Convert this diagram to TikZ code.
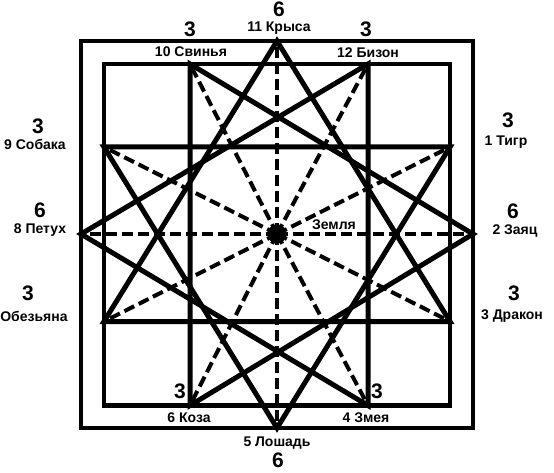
\documentclass[tikz,border=0pt]{standalone}
\usepackage{fontspec}
\setmainfont{Liberation Sans}
\begin{document}
\begin{tikzpicture}[x=1pt,y=-1pt,
  solidl/.style={line width=5pt, line join=miter},
  frame/.style={line width=4.5pt},
  dashl/.style={line width=4pt, dash pattern=on 11pt off 5pt},
  lbl/.style={font=\bfseries\fontsize{14}{14}\selectfont, inner sep=0pt},
  num/.style={font=\bfseries\fontsize{21}{21}\selectfont, inner sep=0pt}]
\useasboundingbox (0,0) rectangle (554,473);
% points
\coordinate (c) at (277,234);
\coordinate (p11) at (277,41);
\coordinate (p12) at (368,64);
\coordinate (p1) at (450,147);
\coordinate (p2) at (473,234);
\coordinate (p3) at (450,321.5);
\coordinate (p4) at (368,405.5);
\coordinate (p5) at (277,428);
\coordinate (p6) at (190,405.5);
\coordinate (p7) at (104,321.5);
\coordinate (p8) at (81,234);
\coordinate (p9) at (104,147);
\coordinate (p10) at (190,64);
% frames
\draw[frame] (81,41) rectangle (473,428);
\draw[frame] (104,64) rectangle (450,405.5);
% dashed radii
\foreach \p in {p1,p2,p3,p4,p5,p6,p7,p8,p9,p10,p11,p12}
  \draw[dashl] (c) -- (\p);
% triangles
\draw[solidl] (p11) -- (p3) -- (p7) -- cycle;
\draw[solidl] (p12) -- (p4) -- (p8) -- cycle;
\draw[solidl] (p1) -- (p5) -- (p9) -- cycle;
\draw[solidl] (p2) -- (p6) -- (p10) -- cycle;
% centre
\fill (c) circle (9.5pt);
\node[lbl] (zem) at (334,225) {Земля};
% labels
\node[num] (n11) at (279,9.5) {6};
\node[lbl] (l11) at (279,28) {11 Крыса};
\node[num] (n10) at (190,29) {3};
\node[lbl] (l10) at (191,52) {10 Свинья};
\node[num] (n12) at (366,29) {3};
\node[lbl] (l12) at (368,53) {12 Бизон};
\node[num] (n9) at (38,126) {3};
\node[lbl] (l9) at (35,144) {9 Собака};
\node[num] (n8) at (40,210) {6};
\node[lbl] (l8) at (40,230) {8 Петух};
\node[num] (n7) at (28,293) {3};
\node[lbl] (l7) at (34,316) {Обезьяна};
\node[num] (n1) at (508,120) {3};
\node[lbl] (l1) at (506,142) {1 Тигр};
\node[num] (n2) at (513,211) {6};
\node[lbl] (l2) at (515,231) {2 Заяц};
\node[num] (n3) at (514,293) {3};
\node[lbl] (l3) at (512,316) {3 Дракон};
\node[num] (n6) at (180,391) {3};
\node[lbl] (l6) at (189,418) {6 Коза};
\node[num] (n4) at (377,391) {3};
\node[lbl] (l4) at (366,418) {4 Змея};
\node[lbl] (l5) at (277,443) {5 Лошадь};
\node[num] (n5) at (278,460) {6};
\end{tikzpicture}
\end{document}
